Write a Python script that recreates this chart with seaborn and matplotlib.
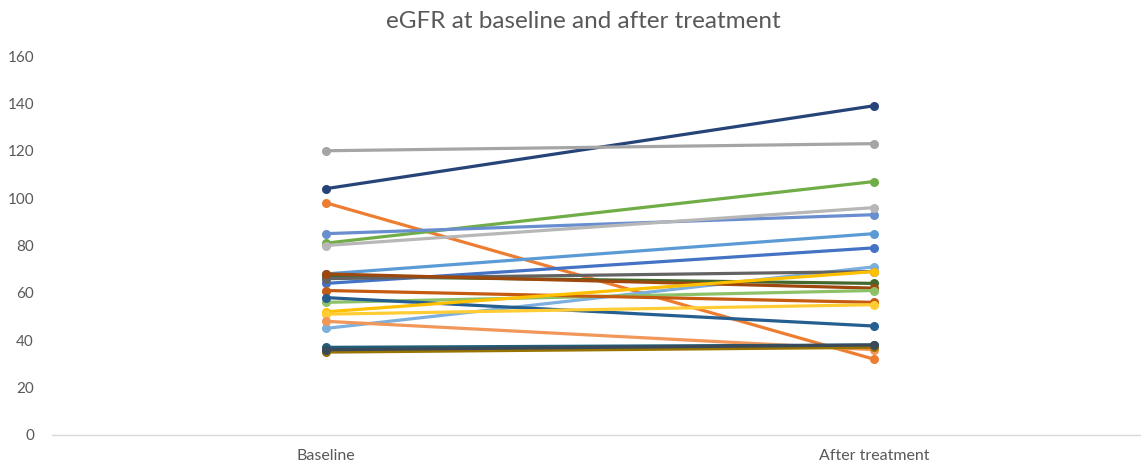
import matplotlib
matplotlib.use("Agg")
import matplotlib.pyplot as plt
import seaborn as sns
import pandas as pd

# eGFR per patient: value at baseline and after treatment
timepoints = ["Baseline", "After treatment"]
baseline = [104, 120, 98, 81, 85, 80, 68, 64, 45, 67, 66, 68, 56, 61, 58, 52, 51, 48, 37, 35, 36]
after = [139, 123, 32, 107, 93, 96, 85, 79, 71, 64, 69, 62, 61, 56, 46, 69, 55, 36, 38, 37, 38]
line_colors = [
    "#264478", "#A5A5A5", "#ED7D31", "#70AD47", "#698ED0", "#B7B7B7",
    "#5B9BD5", "#4472C4", "#7CAFDD", "#43682B", "#636363", "#9E480E",
    "#8CC168", "#C55A11", "#255E91", "#FFC000", "#FFCD33", "#F1975A",
    "#1F5F7A", "#997300", "#3A4A5A",
]
y_ticks = [0, 20, 40, 60, 80, 100, 120, 140, 160]

rows = []
for i, (b, a) in enumerate(zip(baseline, after)):
    rows.append({"patient": f"P{i + 1}", "time": timepoints[0], "egfr": b})
    rows.append({"patient": f"P{i + 1}", "time": timepoints[1], "egfr": a})
df = pd.DataFrame(rows)

sns.set_theme(style="white")
plt.rcParams["font.family"] = ["Lato", "DejaVu Sans"]

W, H = 1141, 466
fig = plt.figure(figsize=(W / 100, H / 100), dpi=100)
ax = fig.add_axes([52 / W, (H - 435) / H, (W - 52) / W, (435 - 56) / H])

sns.lineplot(
    data=df, x="time", y="egfr", hue="patient", palette=line_colors,
    marker="o", markersize=6.5, markeredgewidth=0, linewidth=2.3,
    legend=False, ax=ax, sort=False,
)

ax.set_xlim(-0.5, -0.5 + (W - 52) / 548)
ax.set_ylim(0, 160)
ax.set_yticks(y_ticks)
ax.set_xticks([0, 1])
ax.set_xticklabels(timepoints)
ax.set_xlabel("")
ax.set_ylabel("")
ax.tick_params(axis="y", length=0, pad=13, labelsize=11, labelcolor="#595959")
ax.tick_params(axis="x", length=0, pad=10, labelsize=11.5, labelcolor="#595959")
for side in ["top", "right", "left"]:
    ax.spines[side].set_visible(False)
ax.spines["bottom"].set_color("#D9D9D9")
ax.spines["bottom"].set_linewidth(1.0)

fig.text(583 / W, 1 - 21 / H, "eGFR at baseline and after treatment",
         ha="center", va="center", fontsize=17.5, color="#595959")

fig.savefig("out.png", dpi=100)
